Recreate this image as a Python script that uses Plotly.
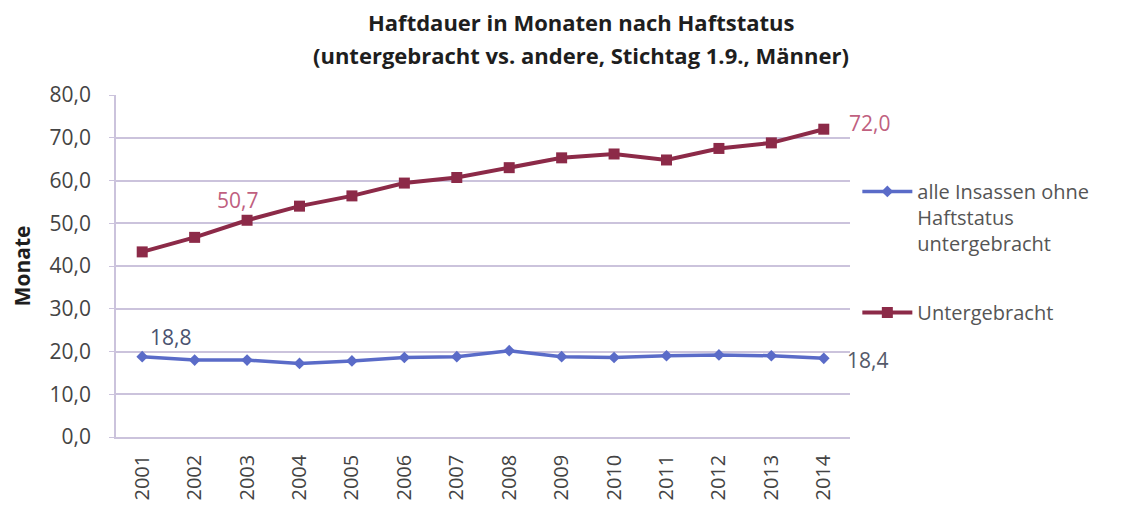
import plotly.graph_objects as go

# Werte
jahre = [2001, 2002, 2003, 2004, 2005, 2006, 2007,
         2008, 2009, 2010, 2011, 2012, 2013, 2014]
andere = [18.8, 18.0, 18.0, 17.2, 17.8, 18.6, 18.8,
          20.2, 18.8, 18.6, 19.0, 19.2, 19.0, 18.4]
untergebracht = [43.3, 46.7, 50.7, 54.0, 56.4, 59.4, 60.7,
                 63.0, 65.3, 66.2, 64.8, 67.5, 68.8, 72.0]
y_ticks = [0, 10, 20, 30, 40, 50, 60, 70, 80]
titel = ["Haftdauer in Monaten nach Haftstatus",
         "(untergebracht vs. andere, Stichtag 1.9., Männer)"]

blau = "#5a6bc8"
rot = "#8c2a48"
gitter = "#cbc3dc"
schrift = "'Open Sans', Lato, sans-serif"

fig = go.Figure()
fig.add_trace(go.Scatter(
    x=jahre, y=andere, mode="lines+markers",
    name="alle Insassen ohne<br>Haftstatus<br>untergebracht",
    line=dict(color=blau, width=3.5),
    marker=dict(symbol="diamond", size=9, color=blau),
    legendgroup="a",
))
fig.add_trace(go.Scatter(
    x=jahre, y=untergebracht, mode="lines+markers",
    name="Untergebracht",
    line=dict(color=rot, width=4),
    marker=dict(symbol="square", size=11, color=rot),
    legendgroup="b",
))

# Datenbeschriftungen
labels = [
    (jahre[2], untergebracht[2], "50,7", "#c0607f", -10, 20),
    (jahre[-1], untergebracht[-1], "72,0", "#c0607f", 46, 6),
    (jahre[0], andere[0], "18,8", "#4a5270", 28, 20),
    (jahre[-1], andere[-1], "18,4", "#555a6a", 44, -2),
]
for x, y, txt, col, dx, dy in labels:
    fig.add_annotation(x=x, y=y, text=txt, showarrow=False,
                       xshift=dx, yshift=dy,
                       font=dict(size=21, color=col, family=schrift))

# Titel in zwei Zeilen (Position relativ zur Zeichenfläche)
for zeile, ypix in zip(titel, [22, 55]):
    fig.add_annotation(
        text="<b>" + zeile + "</b>", showarrow=False,
        xref="paper", yref="paper", x=(581 - 116) / 734,
        y=(437 - ypix) / 342, xanchor="center", yanchor="middle",
        font=dict(size=22, color="#1e1e1e", family=schrift),
    )

fig.update_layout(
    width=1123, height=506,
    paper_bgcolor="white", plot_bgcolor="white",
    # Seite hat 8px Rand, daher verschoben
    margin=dict(l=108, r=281, t=87, b=77),
    separators=",.",
    font=dict(family=schrift, color="#444444"),
    legend=dict(
        x=1.01, xanchor="left", y=0.775, yanchor="top",
        valign="top", tracegroupgap=40,
        font=dict(size=20, color="#555555", family=schrift),
        itemwidth=50,
    ),
)
fig.update_yaxes(
    range=[0, 80], tickvals=y_ticks, tickformat=".1f",
    automargin=False,
    showgrid=True, gridcolor=gitter, gridwidth=1.5,
    showline=True, linecolor=gitter, linewidth=1.5,
    ticks="outside", ticklen=5, tickcolor=gitter,
    ticklabelstandoff=14, zeroline=False,
    tickfont=dict(size=21, color="#444444"),
    title=dict(text="<b>Monate</b>", standoff=14,
               font=dict(size=21, color="#1e1e1e")),
)
fig.update_xaxes(
    range=[2000.5, 2014.5], tickvals=jahre, tickangle=-90,
    automargin=False,
    showgrid=False, showline=True, linecolor=gitter, linewidth=1.5,
    tickfont=dict(size=20, color="#444444"),
    ticklabelstandoff=8,
)

fig.write_html("out.html")
